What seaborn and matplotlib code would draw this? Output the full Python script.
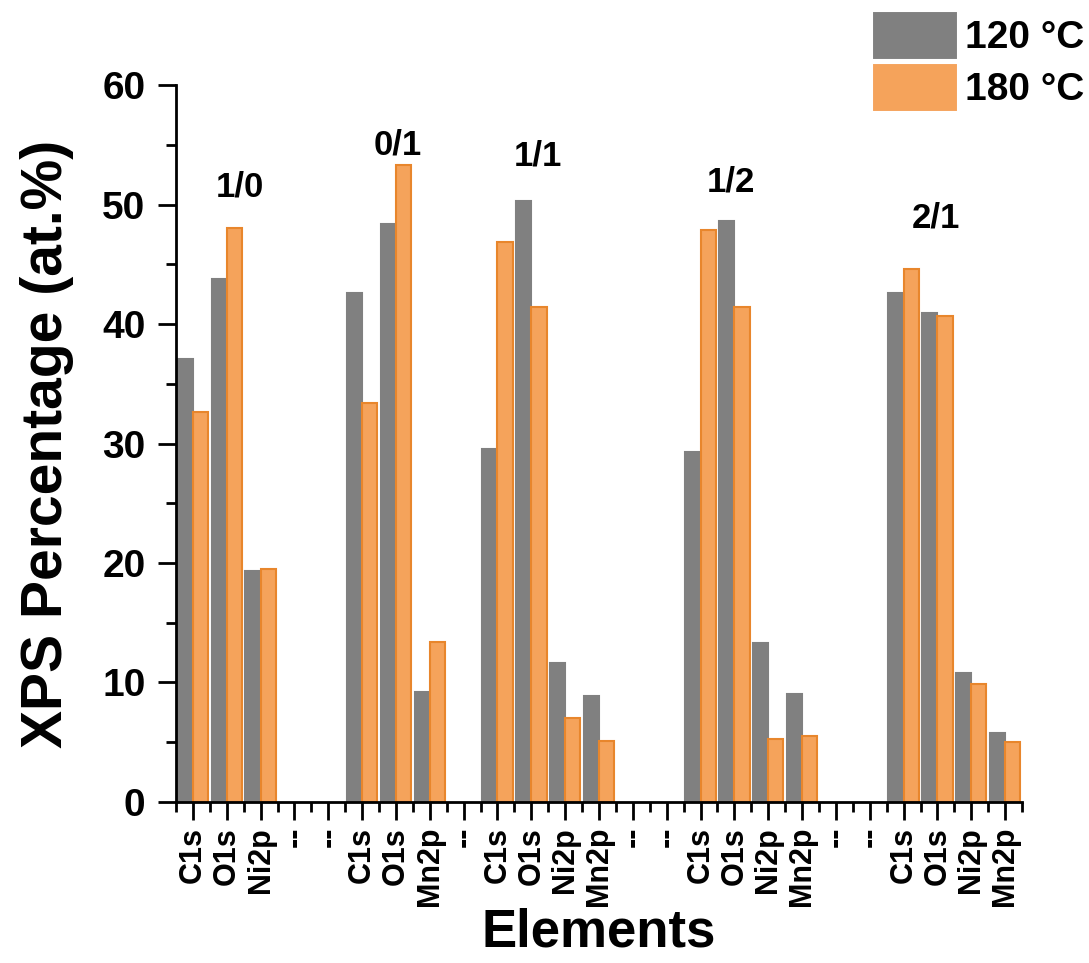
import matplotlib
matplotlib.use("Agg")
import matplotlib.pyplot as plt
import seaborn as sns
import pandas as pd
import numpy as np
from matplotlib.ticker import MultipleLocator, FixedLocator

# ---- data ----
tick_labels = ["C1s", "O1s", "Ni2p", "--", "--",
               "C1s", "O1s", "Mn2p", "--",
               "C1s", "O1s", "Ni2p", "Mn2p", "--", "--",
               "C1s", "O1s", "Ni2p", "Mn2p", "--", "--",
               "C1s", "O1s", "Ni2p", "Mn2p"]
values_120 = [37.1, 43.8, 19.3, np.nan, np.nan,
              42.6, 48.4, 9.2, np.nan,
              29.5, 50.3, 11.6, 8.9, np.nan, np.nan,
              29.3, 48.6, 13.3, 9.0, np.nan, np.nan,
              42.6, 40.9, 10.8, 5.8]
values_180 = [32.6, 48.0, 19.5, np.nan, np.nan,
              33.4, 53.3, 13.4, np.nan,
              46.9, 41.4, 7.0, 5.1, np.nan, np.nan,
              47.9, 41.4, 5.3, 5.5, np.nan, np.nan,
              44.6, 40.7, 9.9, 5.0]
series_names = ["120 °C", "180 °C"]
group_names = ["1/0", "0/1", "1/1", "1/2", "2/1"]
group_label_x = [1.4, 6.05, 10.2, 15.9, 21.95]
group_label_y = [51.5, 55.0, 54.1, 51.9, 48.9]

slot_ids = [f"slot{i:02d}" for i in range(len(tick_labels))]
df = pd.DataFrame({
    "slot": slot_ids * 2,
    "temp": [series_names[0]] * len(slot_ids) + [series_names[1]] * len(slot_ids),
    "value": values_120 + values_180,
})

# ---- style ----
sns.set_style("ticks")
plt.rcParams["font.family"] = ["Liberation Sans", "DejaVu Sans"]
plt.rcParams["font.weight"] = "bold"
plt.rcParams["text.color"] = "black"
plt.rcParams["axes.labelcolor"] = "black"
plt.rcParams["xtick.color"] = "black"
plt.rcParams["ytick.color"] = "black"

fill_colors = {"120 °C": "#808080", "180 °C": "#F5A35B"}
edge_colors = ["#808080", "#E8862C"]

fig = plt.figure(figsize=(10.89, 9.63), dpi=100)
ax = fig.add_axes([0.1616, 0.1672, 0.7769, 0.7445])

sns.barplot(data=df, x="slot", y="value", hue="temp", order=slot_ids,
            hue_order=series_names, palette=fill_colors, width=0.9,
            saturation=1, ax=ax, linewidth=1.5)

for cont, ec in zip(ax.containers, edge_colors):
    for bar in cont:
        bar.set_edgecolor(ec)
        bar.set_linewidth(1.5)

ax.set_xlim(-0.5, len(slot_ids) - 0.5)
ax.set_ylim(0, 60)
ax.yaxis.set_major_locator(MultipleLocator(10))
ax.yaxis.set_minor_locator(MultipleLocator(5))
ax.xaxis.set_major_locator(FixedLocator(np.arange(len(slot_ids))))
ax.xaxis.set_minor_locator(FixedLocator(np.arange(len(slot_ids) + 1) - 0.5))
ax.set_xticklabels(tick_labels, rotation=90, fontsize=22, fontweight="bold",
                   color="black")
for t in ax.get_yticklabels():
    t.set_fontsize(28)
    t.set_fontweight("bold")
    t.set_color("black")

ax.tick_params(axis="both", which="major", length=13, width=2, color="black",
               direction="out", pad=9, labelcolor="black")
ax.tick_params(axis="x", which="major", pad=5)
ax.tick_params(axis="both", which="minor", length=7, width=2, color="black",
               direction="out")

sns.despine(ax=ax)
for sp in ["left", "bottom"]:
    ax.spines[sp].set_linewidth(2)
    ax.spines[sp].set_color("black")

ax.set_xlabel("Elements", fontsize=38, fontweight="bold", labelpad=1,
              color="black")
ax.set_ylabel("XPS Percentage (at.%)", fontsize=41, fontweight="bold",
              labelpad=20, color="black")

for name, gx, gy in zip(group_names, group_label_x, group_label_y):
    ax.text(gx, gy, name, ha="center", va="center", fontsize=25,
            fontweight="bold", color="black")

handles, labels = ax.get_legend_handles_labels()
leg = ax.legend(handles, labels, loc="upper left",
                bbox_to_anchor=(872 / 1089, 1 - 11 / 963),
                bbox_transform=fig.transFigure, frameon=False,
                prop={"size": 28, "weight": "bold"}, handlelength=2.2,
                handleheight=1.55, handletextpad=0.2, labelspacing=0.08,
                borderpad=0, borderaxespad=0, title=None)
for txt in leg.get_texts():
    txt.set_color("black")

fig.savefig("out.png", dpi=100)
